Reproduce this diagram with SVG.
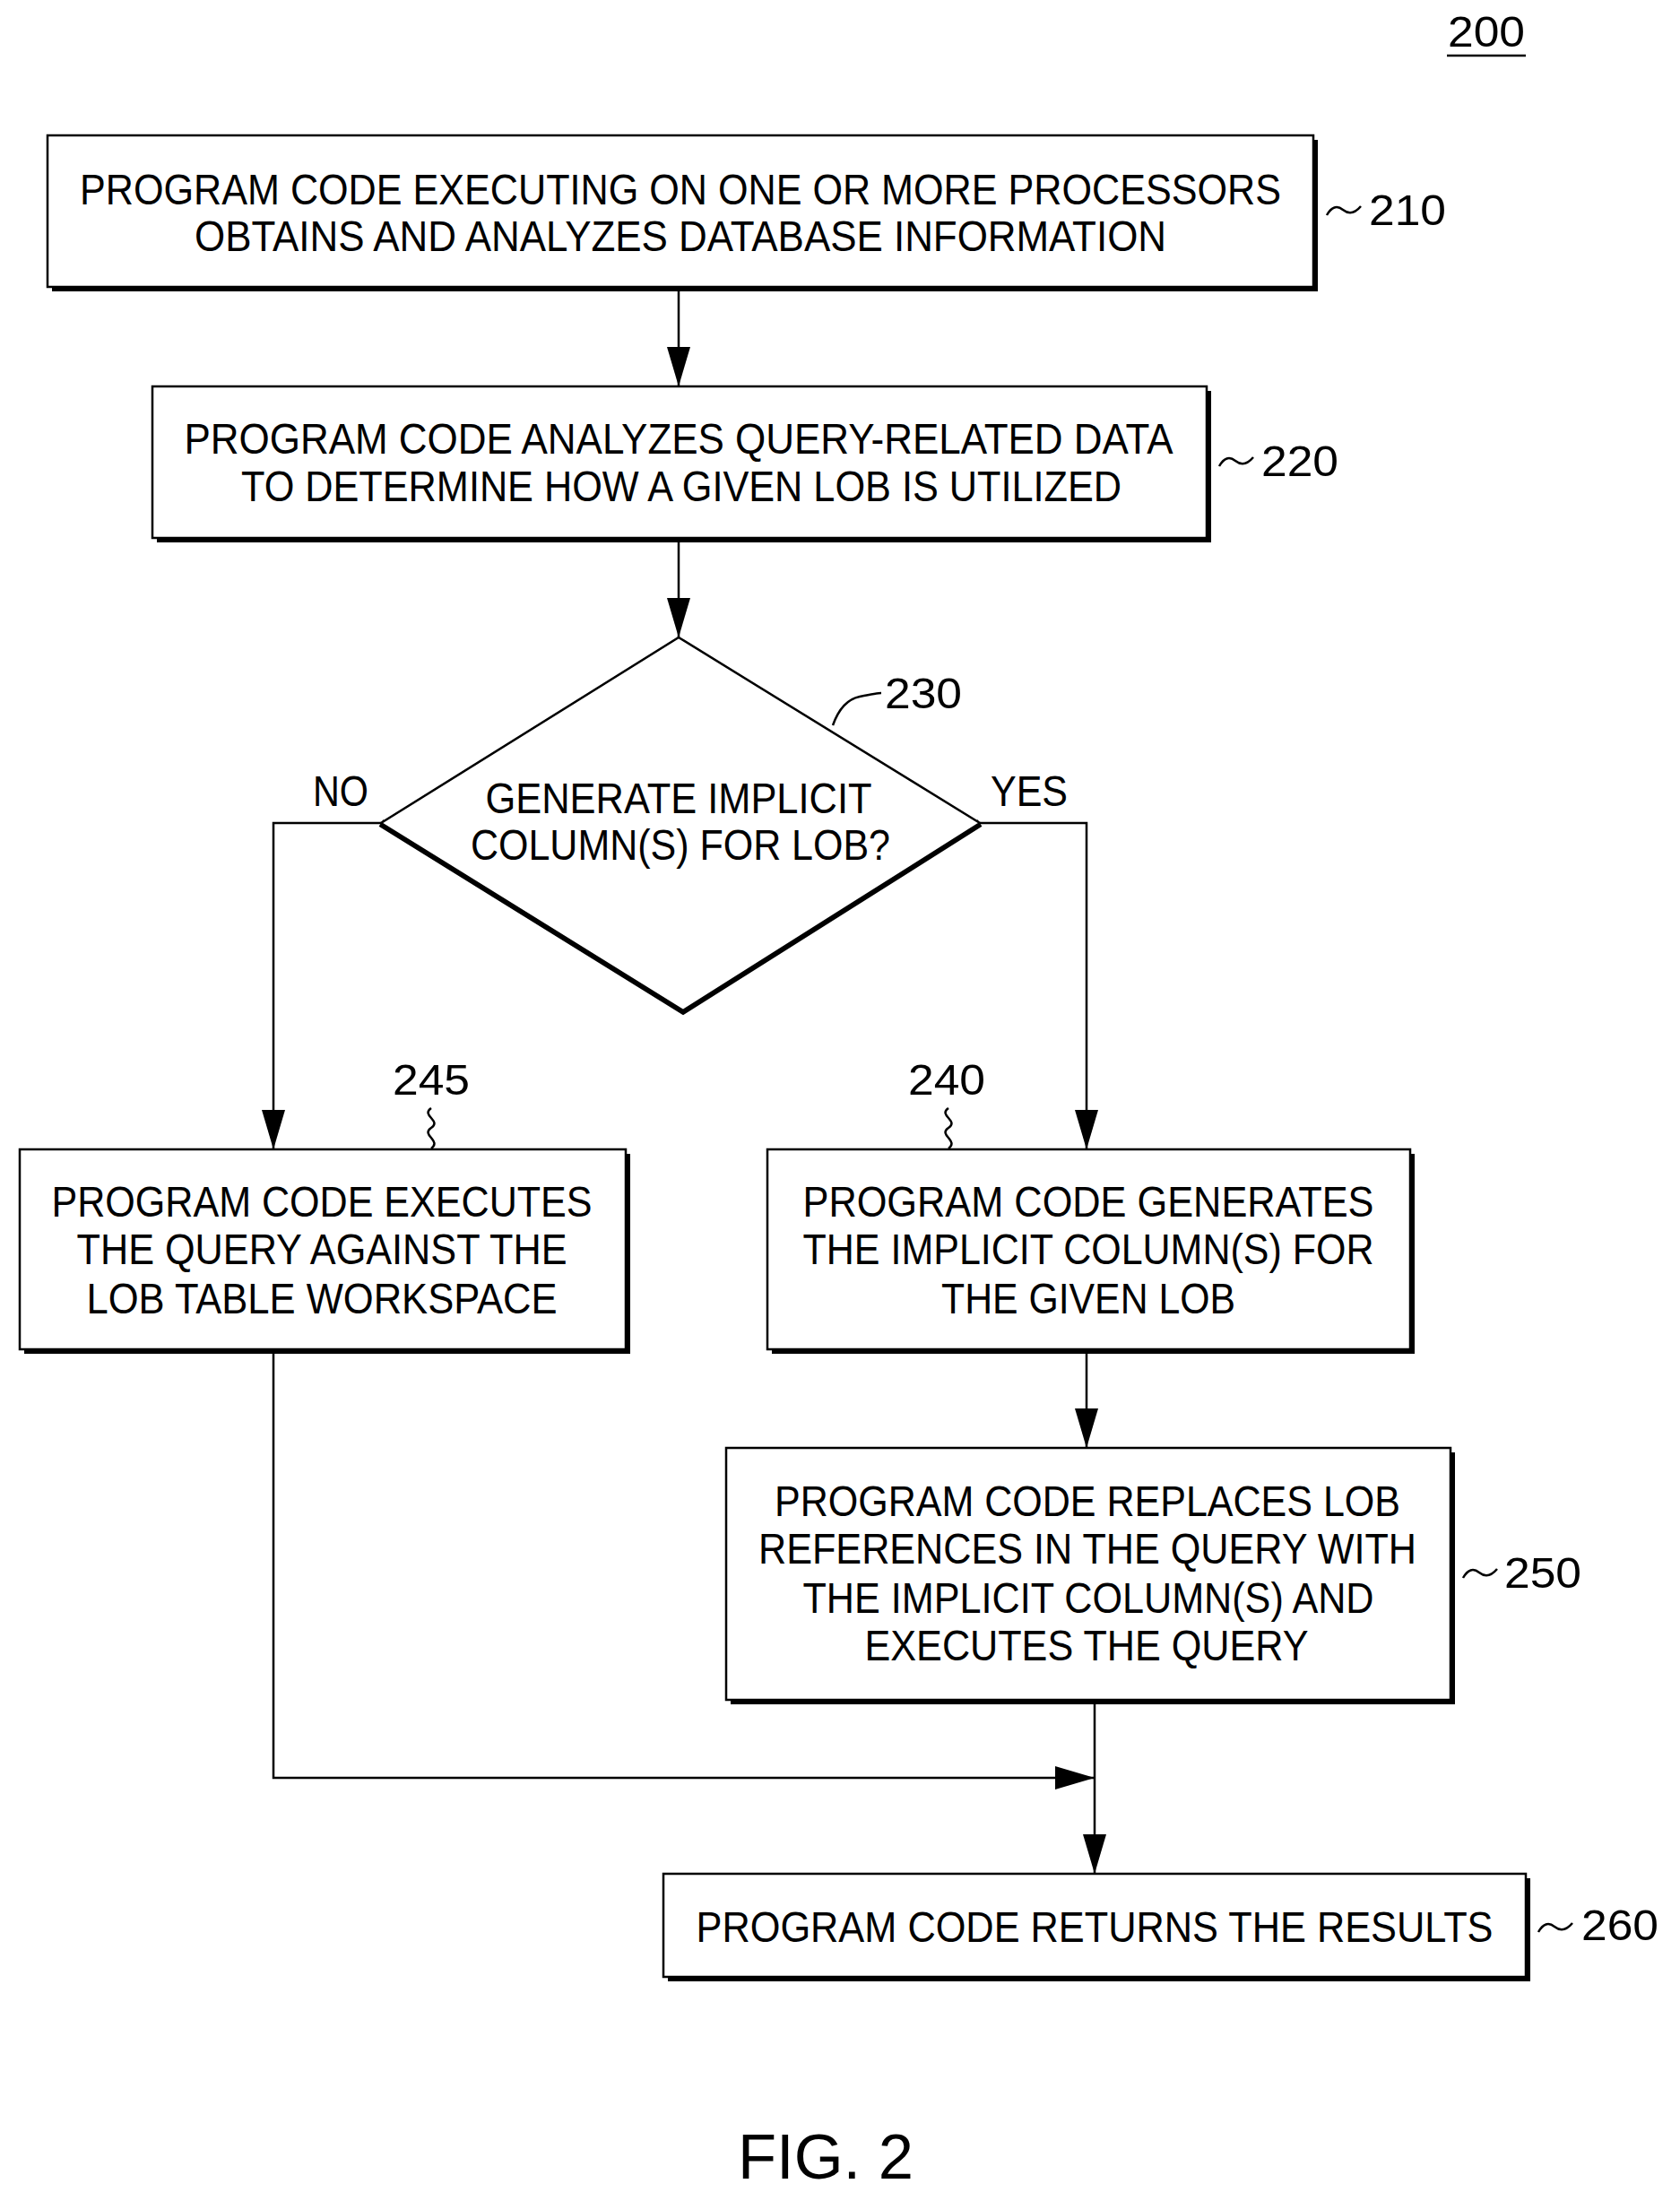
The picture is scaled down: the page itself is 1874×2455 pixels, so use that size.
<svg xmlns="http://www.w3.org/2000/svg" width="1874" height="2455" viewBox="0 0 1874 2455">
<style>
.b{fill:#fff;stroke:#000;stroke-width:2.5}
.s{fill:#000}
.l{fill:none;stroke:#000;stroke-width:2.5}
text{font-family:"Liberation Sans",Arial,sans-serif;font-size:48px;fill:#000;text-anchor:middle}
.n{text-anchor:start}
</style>
<defs>
<marker id="h" markerWidth="44" markerHeight="26" refX="44" refY="13" orient="auto" markerUnits="userSpaceOnUse" viewBox="0 0 44 26"><path d="M0,0 L44,13 L0,26 Z"/></marker></defs>
<rect width="1874" height="2455" fill="#fff"/>
<g id="connectors">
<line class="l" x1="757" y1="320" x2="757" y2="431" marker-end="url(#h)"/>
<line class="l" x1="757" y1="600" x2="757" y2="711" marker-end="url(#h)"/>
<polyline class="l" points="425,918 305,918 305,1282" marker-end="url(#h)"/>
<polyline class="l" points="1093,918 1212,918 1212,1282" marker-end="url(#h)"/>
<line class="l" x1="1212" y1="1505" x2="1212" y2="1615" marker-end="url(#h)"/>
<polyline class="l" points="305,1505 305,1983 1221,1983" marker-end="url(#h)"/>
<line class="l" x1="1221" y1="1896" x2="1221" y2="2090" marker-end="url(#h)"/>
</g>
<g id="n200"><text x="1658" y="52" textLength="86" lengthAdjust="spacingAndGlyphs">200</text><line class="l" x1="1614" y1="62" x2="1702" y2="62"/></g>
<g id="n210">
<rect class="s" x="58" y="156" width="1412" height="169"/>
<rect class="b" x="53" y="151" width="1412" height="169"/>
<text x="759" y="228" textLength="1340" lengthAdjust="spacingAndGlyphs">PROGRAM CODE EXECUTING ON ONE OR MORE PROCESSORS</text>
<text x="759" y="280" textLength="1084" lengthAdjust="spacingAndGlyphs">OBTAINS AND ANALYZES DATABASE INFORMATION</text>
<path class="l" d="M1480,240 q8,-14 18,-6 t20,-4"/>
<text class="n" x="1527" y="251" textLength="86" lengthAdjust="spacingAndGlyphs">210</text>
</g>
<g id="n220">
<rect class="s" x="175" y="436" width="1176" height="169"/>
<rect class="b" x="170" y="431" width="1176" height="169"/>
<text x="757" y="506" textLength="1103" lengthAdjust="spacingAndGlyphs">PROGRAM CODE ANALYZES QUERY-RELATED DATA</text>
<text x="760" y="559" textLength="982" lengthAdjust="spacingAndGlyphs">TO DETERMINE HOW A GIVEN LOB IS UTILIZED</text>
<path class="l" d="M1360,520 q8,-14 18,-6 t20,-4"/>
<text class="n" x="1407" y="531" textLength="86" lengthAdjust="spacingAndGlyphs">220</text>
</g>
<g id="n230">
<polyline points="1093,918 762,1127 425,918" fill="none" stroke="#000" stroke-width="9" stroke-linejoin="miter"/>
<polygon class="b" points="757,711 1093,918 762,1127 425,918"/>
<text x="757" y="907" textLength="431" lengthAdjust="spacingAndGlyphs">GENERATE IMPLICIT</text>
<text x="759" y="959" textLength="468" lengthAdjust="spacingAndGlyphs">COLUMN(S) FOR LOB?</text>
<path class="l" d="M929,809 q10,-28 30,-32 t24,-4"/>
<text class="n" x="987" y="790" textLength="86" lengthAdjust="spacingAndGlyphs">230</text>
<text x="380" y="899" textLength="62" lengthAdjust="spacingAndGlyphs">NO</text>
<text x="1148" y="899" textLength="86" lengthAdjust="spacingAndGlyphs">YES</text>
</g>
<g id="n245">
<rect class="s" x="27" y="1287" width="676" height="223"/>
<rect class="b" x="22" y="1282" width="676" height="223"/>
<text x="359" y="1357" textLength="603" lengthAdjust="spacingAndGlyphs">PROGRAM CODE EXECUTES</text>
<text x="359" y="1410" textLength="547" lengthAdjust="spacingAndGlyphs">THE QUERY AGAINST THE</text>
<text x="359" y="1465" textLength="525" lengthAdjust="spacingAndGlyphs">LOB TABLE WORKSPACE</text>
<path class="l" d="M481,1236 c-12,8 12,14 0,22 s12,14 0,23"/>
<text x="481" y="1221" textLength="86" lengthAdjust="spacingAndGlyphs">245</text>
</g>
<g id="n240">
<rect class="s" x="861" y="1287" width="717" height="223"/>
<rect class="b" x="856" y="1282" width="717" height="223"/>
<text x="1214" y="1357" textLength="637" lengthAdjust="spacingAndGlyphs">PROGRAM CODE GENERATES</text>
<text x="1214" y="1410" textLength="637" lengthAdjust="spacingAndGlyphs">THE IMPLICIT COLUMN(S) FOR</text>
<text x="1214" y="1465" textLength="328" lengthAdjust="spacingAndGlyphs">THE GIVEN LOB</text>
<path class="l" d="M1058,1236 c-12,8 12,14 0,22 s12,14 0,23"/>
<text x="1056" y="1221" textLength="86" lengthAdjust="spacingAndGlyphs">240</text>
</g>
<g id="n250">
<rect class="s" x="815" y="1620" width="808" height="281"/>
<rect class="b" x="810" y="1615" width="808" height="281"/>
<text x="1213" y="1691" textLength="698" lengthAdjust="spacingAndGlyphs">PROGRAM CODE REPLACES LOB</text>
<text x="1213" y="1744" textLength="734" lengthAdjust="spacingAndGlyphs">REFERENCES IN THE QUERY WITH</text>
<text x="1214" y="1799" textLength="637" lengthAdjust="spacingAndGlyphs">THE IMPLICIT COLUMN(S) AND</text>
<text x="1212" y="1852" textLength="495" lengthAdjust="spacingAndGlyphs">EXECUTES THE QUERY</text>
<path class="l" d="M1632,1760 q8,-14 18,-6 t20,-4"/>
<text class="n" x="1678" y="1771" textLength="86" lengthAdjust="spacingAndGlyphs">250</text>
</g>
<g id="n260">
<rect class="s" x="745" y="2095" width="962" height="115"/>
<rect class="b" x="740" y="2090" width="962" height="115"/>
<text x="1221" y="2166" textLength="889" lengthAdjust="spacingAndGlyphs">PROGRAM CODE RETURNS THE RESULTS</text>
<path class="l" d="M1716,2155 q8,-14 18,-6 t20,-4"/>
<text class="n" x="1764" y="2164" textLength="86" lengthAdjust="spacingAndGlyphs">260</text>
</g>
<text x="921" y="2430" style="font-size:70px" textLength="196" lengthAdjust="spacingAndGlyphs">FIG. 2</text>
</svg>
